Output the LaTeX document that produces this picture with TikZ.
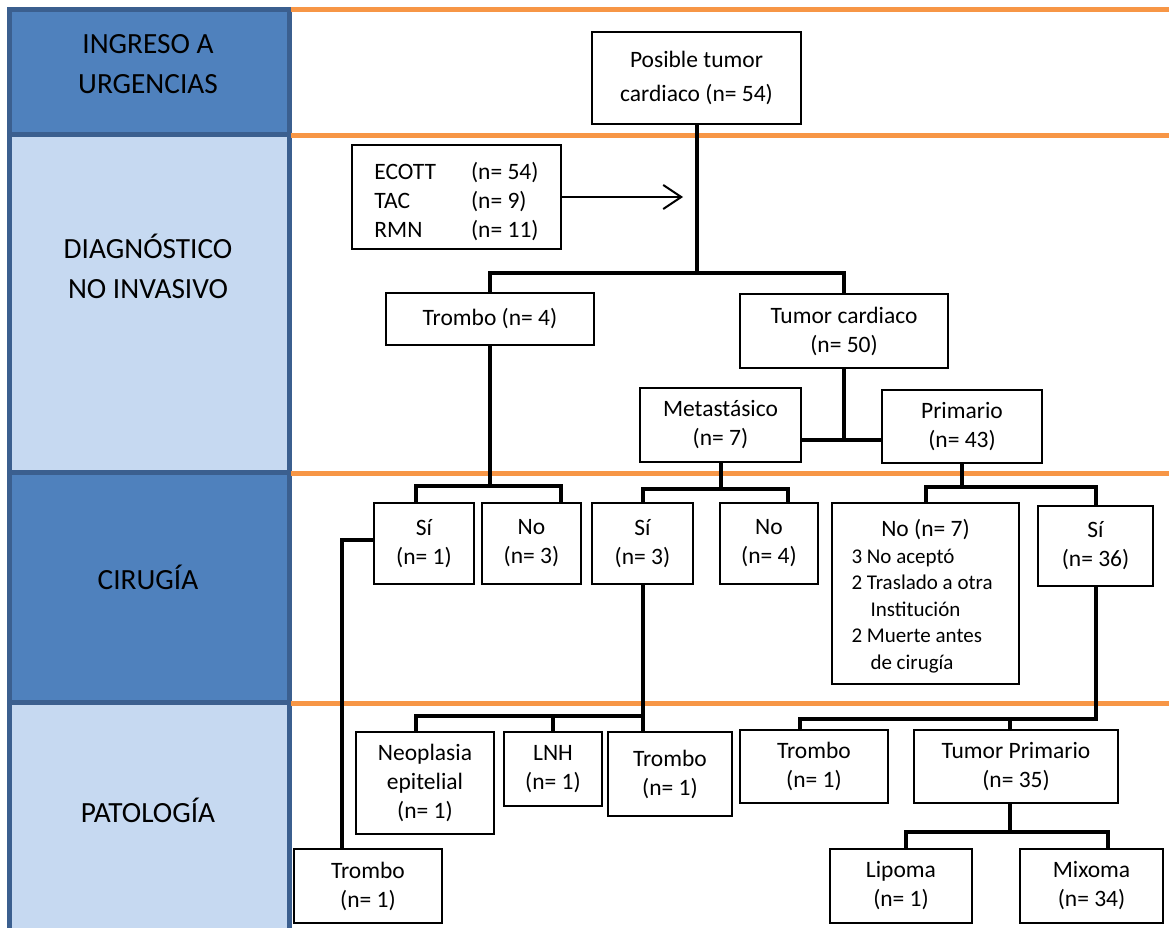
\documentclass[tikz,border=0pt]{standalone}
\usepackage{fontspec}
\setmainfont{Carlito}
\usetikzlibrary{arrows.meta, positioning}

\definecolor{azuloscuro}{HTML}{4F81BD}
\definecolor{azulclaro}{HTML}{C6D9F1}
\definecolor{azulborde}{HTML}{3B5F8F}
\definecolor{naranja}{HTML}{F79646}

\begin{document}
\begin{tikzpicture}[x=1pt, y=-1pt,
    caja/.style={draw, fill=white, line width=2pt, align=center, inner sep=0pt,
                 font=\fontsize{23.5}{29}\selectfont},
    etiqueta/.style={align=center, font=\fontsize{29.3}{40}\selectfont},
    linea/.style={line width=4pt},
    flecha/.style={line width=2pt, -{Straight Barb[length=18pt, width=24pt, line width=2pt]}},
    franja/.style={naranja, line width=5pt}]
            \useasboundingbox (0,0) rectangle (1169,928);
            \clip (0,0) rectangle (1169,928);

			% Draw the stage column
			\fill[azuloscuro] (9.5,9.5) rectangle (289,135);
			\fill[azulclaro] (9.5,135) rectangle (289,472);
			\fill[azuloscuro] (9.5,472) rectangle (289,702);
			\fill[azulclaro] (9.5,702) rectangle (289,940);
			\draw[azulborde, line width=5pt] (9.5,940) -- (9.5,9.5) -- (289,9.5) -- (289,940);
			\draw[azulborde, line width=5pt] (9.5,135) -- (289,135);
			\draw[azulborde, line width=5pt] (9.5,472) -- (289,472);
			\draw[azulborde, line width=5pt] (9.5,702) -- (289,702);

			\node[etiqueta] (ingreso) at (148,64) {INGRESO A\\URGENCIAS};
			\node[etiqueta] (diagnostico) at (148,266) {DIAGNÓSTICO\\NO INVASIVO};
			\node[etiqueta] (cirugia) at (148,577) {CIRUGÍA};
			\node[etiqueta] (patologia) at (148,810) {PATOLOGÍA};

			% Draw the separators
			\draw[franja] (291,10) -- (1169,10);
			\draw[franja] (291,136) -- (1169,136);
			\draw[franja] (291,473) -- (1169,473);
			\draw[franja] (291,703) -- (1169,703);

			% Draw the boxes
			\node[caja, minimum width=209pt, minimum height=92pt] (posible) at (696.5,78) {Posible tumor\\[5pt]cardiaco (n= 54)};
			\node[caja, minimum width=209pt, minimum height=104pt] (ecott) at (456.5,197)
				{\begin{tabular}{@{}l@{\hspace{35pt}}l@{}}\rule{0pt}{32pt}ECOTT & (n= 54)\\TAC & (n= 9)\\RMN & (n= 11)\end{tabular}};
			\node[caja, minimum width=208pt, minimum height=52pt] (trombo4) at (490,319) {Trombo (n= 4)};
			\node[caja, minimum width=208pt, minimum height=74pt] (tumorcard) at (844,331) {Tumor cardiaco\\(n= 50)};
			\node[caja, minimum width=161pt, minimum height=74pt] (meta) at (720.5,425) {Metastásico\\(n= 7)};
			\node[caja, minimum width=160pt, minimum height=73pt] (prim) at (962,426.5) {Primario\\(n= 43)};

			\node[caja, minimum width=100pt, minimum height=81pt] (si1) at (424,543.5) {Sí\\(n= 1)};
			\node[caja, minimum width=99pt, minimum height=81pt] (no3) at (531.5,543.5) {No\\(n= 3)};
			\node[caja, minimum width=101pt, minimum height=81pt] (si3) at (642.5,543.5) {Sí\\(n= 3)};
			\node[caja, minimum width=98pt, minimum height=81pt] (no4) at (769,543.5) {No\\(n= 4)};
			\node[caja, minimum width=187pt, minimum height=181pt, font=\fontsize{21}{26.5}\selectfont] (no7) at (925.5,593.5)
				{\begin{tabular}{@{}l@{}}\rule{0pt}{27pt}\makebox[148pt]{\fontsize{23.5}{29}\selectfont No (n= 7)}\\3 No aceptó\\2 Traslado a otra\\\hspace*{19pt}Institución\\2 Muerte antes\\\hspace*{19pt}de cirugía\end{tabular}};
			\node[caja, minimum width=115pt, minimum height=80pt] (si36) at (1095.5,546) {Sí\\(n= 36)};

			\node[caja, minimum width=138pt, minimum height=102pt] (neo) at (425,783) {Neoplasia\\epitelial\\(n= 1)};
			\node[caja, minimum width=98pt, minimum height=74pt] (lnh) at (553,769) {LNH\\(n= 1)};
			\node[caja, minimum width=124pt, minimum height=84pt] (trombo1m) at (670,774) {Trombo\\(n= 1)};
			\node[caja, minimum width=148pt, minimum height=73pt] (trombo1r) at (814,766.5) {Trombo\\(n= 1)};
			\node[caja, minimum width=204pt, minimum height=73pt] (tumprim) at (1016,766.5) {Tumor Primario\\(n= 35)};
			\node[caja, minimum width=148pt, minimum height=74pt] (trombo1b) at (368,886) {Trombo\\(n= 1)};
			\node[caja, minimum width=142pt, minimum height=74pt] (lipoma) at (901,886) {Lipoma\\(n= 1)};
			\node[caja, minimum width=143pt, minimum height=74pt] (mixoma) at (1091.5,886) {Mixoma\\(n= 34)};

			% Draw the arrow from the imaging box
			\draw[flecha] (ecott.east) -- ++(121,0);

			% Draw the tree lines
			\coordinate (cruce) at (844,440);
			\draw[linea] (posible.south) -- ++(0,150);
			\draw[linea] (trombo4.north) -- ++(0,-19) -| (tumorcard.north);
			\draw[linea] (tumorcard.south) -- (cruce);
			\draw[linea] (meta.east |- cruce) -- (prim.west |- cruce);

			\draw[linea] (trombo4.south) -- ++(0,142);
			\draw[linea] ([xshift=-8pt]si1.north) -- ++(0,-16) -| ([xshift=29.5pt]no3.north);
			\draw[linea] (meta.south) -- ++(0,28);
			\draw[linea] (si3.north) -- ++(0,-13) -| ([xshift=19pt]no4.north);
			\draw[linea] (prim.south) -- ++(0,25);
			\draw[linea] (no7.north) -- ++(0,-15) -| (si36.north);

			\draw[linea] ([yshift=3.5pt]si1.west) -| ([xshift=-26pt]trombo1b.north);
			\draw[linea] (si3.south) -- ++(0,131) -| ([xshift=-9pt]neo.north);
			\draw[linea] (lnh.north) -- ++(0,-17);
			\draw[linea] ([xshift=-27.5pt]trombo1m.north) -- ++(0,-17);

			\draw[linea] (si36.south) -- ++(0,132) -| ([xshift=-14pt]trombo1r.north);
			\draw[linea] ([xshift=-6pt]tumprim.north) -- ++(0,-12);
			\draw[linea] ([xshift=-6pt]tumprim.south) -- ++(0,30);
			\draw[linea] ([xshift=5pt]lipoma.north) -- ++(0,-16) -| ([xshift=16.5pt]mixoma.north);

		\end{tikzpicture}
\end{document}
